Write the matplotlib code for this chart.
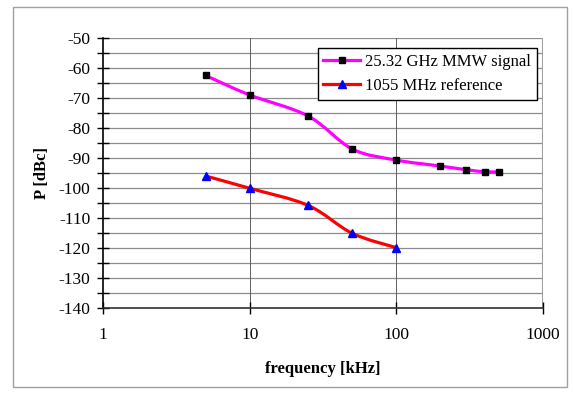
import numpy as np
import matplotlib.pyplot as plt
from matplotlib.path import Path
from matplotlib.patches import PathPatch, Rectangle
from matplotlib.lines import Line2D
from matplotlib.ticker import MultipleLocator, FixedLocator, NullFormatter

plt.rcParams['font.family'] = ['Liberation Serif', 'DejaVu Serif']
plt.rcParams['axes.unicode_minus'] = False

# ---------------- Daten ------------------------------------------------------
f_mmw = [5, 10, 25, 50, 100, 200, 300, 400, 500]
p_mmw = [-62.5, -69.0, -76.0, -87.0, -90.7, -92.7, -93.9, -94.6, -94.6]
f_ref = [5, 10, 25, 50, 100]
p_ref = [-96.0, -100.1, -105.8, -115.1, -119.9]
lbl_mmw = "25.32 GHz MMW signal"
lbl_ref = "1055 MHz reference"


def smooth_path(x, y):
    # Excel-artige Glättung: Bezier-Kurven durch die Messpunkte (log-x)
    lx = np.log10(x)
    y = np.asarray(y, float)
    n = len(lx)
    verts = [(x[0], y[0])]
    codes = [Path.MOVETO]
    for i in range(n - 1):
        i0 = max(i - 1, 0)
        i3 = min(i + 2, n - 1)
        c1x = lx[i] + (lx[i + 1] - lx[i0]) / 6
        c1y = y[i] + (y[i + 1] - y[i0]) / 6
        c2x = lx[i + 1] - (lx[i3] - lx[i]) / 6
        c2y = y[i + 1] - (y[i3] - y[i]) / 6
        verts += [(10 ** c1x, c1y), (10 ** c2x, c2y), (x[i + 1], y[i + 1])]
        codes += [Path.CURVE4] * 3
    return Path(verts, codes)


fig = plt.figure(figsize=(5.73, 3.94), dpi=100)
fig.patches.append(Rectangle((13 / 573, 7 / 394), 554 / 573, 380 / 394,
                             transform=fig.transFigure, fill=False,
                             edgecolor='#a0a0a0', lw=1.0))
ax = fig.add_axes([0.1798, 0.2183, 0.7678, 0.6853])

ax.set_xscale('log')
ax.set_xlim(1, 1000)
ax.set_ylim(-140, -50)

# Linien (geglättet) und Marker
ax.add_patch(PathPatch(smooth_path(f_mmw, p_mmw), fill=False,
                       edgecolor='#ff00ff', lw=2.3, zorder=3))
ax.add_patch(PathPatch(smooth_path(f_ref, p_ref), fill=False,
                       edgecolor='#ff0000', lw=2.3, zorder=3))
ax.plot(f_mmw, p_mmw, ls='none', marker='s', ms=5, color='black', zorder=4)
ax.plot(f_ref, p_ref, ls='none', marker='^', ms=5.5, color='#0000ff', zorder=4)

# Achsen / Gitter
ax.yaxis.set_major_locator(MultipleLocator(10))
ax.yaxis.set_minor_locator(MultipleLocator(5))
ax.xaxis.set_major_locator(FixedLocator([1, 10, 100, 1000]))
ax.xaxis.set_minor_locator(FixedLocator([]))
ax.xaxis.set_minor_formatter(NullFormatter())
ax.set_xticklabels(['1', '10', '100', '1000'])
for yv in np.arange(-135, -45, 5):
    ax.axhline(yv, color='#8c8c8c', lw=0.9, zorder=1)
for xv in [10, 100]:
    ax.axvline(xv, color='#606060', lw=0.7, zorder=1)
ax.axvline(1000, color='#a0a0a0', lw=1.5, zorder=1)

for s in ['top', 'right']:
    ax.spines[s].set_visible(False)
ax.spines['left'].set_linewidth(1.2)
ax.spines['bottom'].set_linewidth(1.2)
ax.spines['bottom'].set_color('#303030')

ax.tick_params(axis='y', which='both', direction='inout', length=8, width=1.0,
               labelsize=12.5, pad=5)
ax.tick_params(axis='x', which='major', direction='inout', length=8, width=1.0,
               labelsize=12.5, pad=10)

ax.set_xlabel('frequency [kHz]', fontsize=12, fontweight='bold', labelpad=13)
ax.set_ylabel('P [dBc]', fontsize=12, fontweight='bold', labelpad=6)

handles = [Line2D([], [], color='#ff00ff', lw=2.3, marker='s', ms=5,
                  mfc='black', mec='black'),
           Line2D([], [], color='#ff0000', lw=2.3, marker='^', ms=5.5,
                  mfc='#0000ff', mec='#0000ff')]
leg = ax.legend(handles, [lbl_mmw, lbl_ref], loc='upper right',
                bbox_to_anchor=(0.986, 0.963), borderaxespad=0, fontsize=12,
                fancybox=False, framealpha=1, edgecolor='black',
                handlelength=2.2, borderpad=0.35, labelspacing=0.5,
                handletextpad=0.3)
leg.get_frame().set_linewidth(1.0)

fig.savefig('out.png', dpi=100)
